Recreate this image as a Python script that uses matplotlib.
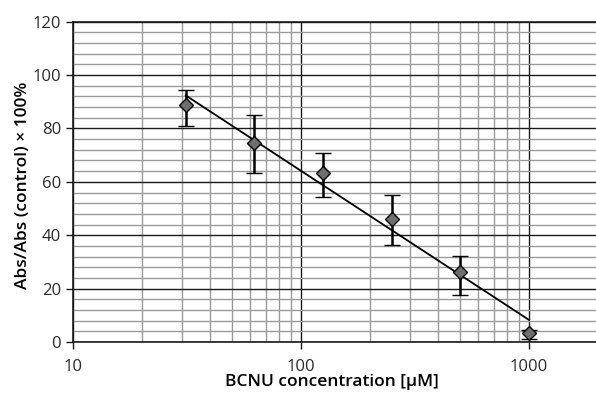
import numpy as np
import matplotlib.pyplot as plt
from matplotlib.ticker import LogLocator, MultipleLocator, NullFormatter

plt.rcParams['font.family'] = ['Open Sans', 'DejaVu Sans']

# BCNU dose-response data
stezenie = [31.25, 62.5, 125, 250, 500, 1000]
wartosc = [88.7, 74.4, 63.2, 46.1, 26.1, 3.4]
blad_gora = [5.7, 10.6, 7.7, 9.0, 6.0, 1.2]
blad_dol = [7.8, 11.0, 8.9, 9.6, 8.6, 2.4]

fig = plt.figure(figsize=(5.96, 4.01), dpi=100)
ax = fig.add_axes([73 / 596, 59 / 401, 524.6 / 596, 320.3 / 401])

# minor grid first, major on top
ax.set_xscale('log')
ax.set_xlim(10, 2000)
ax.set_ylim(0, 120)
ax.yaxis.set_major_locator(MultipleLocator(20))
ax.yaxis.set_minor_locator(MultipleLocator(4))
ax.xaxis.set_minor_locator(LogLocator(base=10, subs=np.arange(2, 10), numticks=20))
ax.xaxis.set_minor_formatter(NullFormatter())
ax.set_xticks([10, 100, 1000])
ax.set_xticklabels(['10', '100', '1000'])

ax.grid(which='minor', color='#9a9a9a', linewidth=1.0)
ax.grid(which='major', color='#1a1a1a', linewidth=1.0)
ax.set_axisbelow(True)

# regression line in log x
wsp = np.polyfit(np.log10(stezenie), wartosc, 1)
xs = np.array([stezenie[0], stezenie[-1]])
ax.plot(xs, np.polyval(wsp, np.log10(xs)), color='black', linewidth=1.3, zorder=3)

ax.errorbar(stezenie, wartosc, yerr=[blad_dol, blad_gora], fmt='D',
            markersize=7, markerfacecolor='#6e6e6e', markeredgecolor='black',
            markeredgewidth=1.0, ecolor='black', elinewidth=1.8, capsize=6,
            capthick=1.8, zorder=4)

ax.spines['right'].set_visible(False)
for s in ['left', 'bottom', 'top']:
    ax.spines[s].set_color('#1a1a1a')
    ax.spines[s].set_linewidth(1.2)

ax.tick_params(which='major', direction='out', length=5, width=1.0,
               labelsize=12, colors='#1a1a1a', labelcolor='#2a2a2a')
ax.tick_params(axis='x', which='major', pad=7)
ax.tick_params(which='minor', length=0)

ax.set_xlabel('BCNU concentration [\u03bcM]', fontsize=12.5, fontweight='semibold')
ax.set_ylabel('Abs/Abs (control) \u00d7 100%', fontsize=12.5, fontweight='semibold')
ax.xaxis.set_label_coords(0.493, -0.1)
ax.yaxis.set_label_coords(-0.080, 0.5 - 3 / 320.3)

fig.savefig('out.png', dpi=100)
